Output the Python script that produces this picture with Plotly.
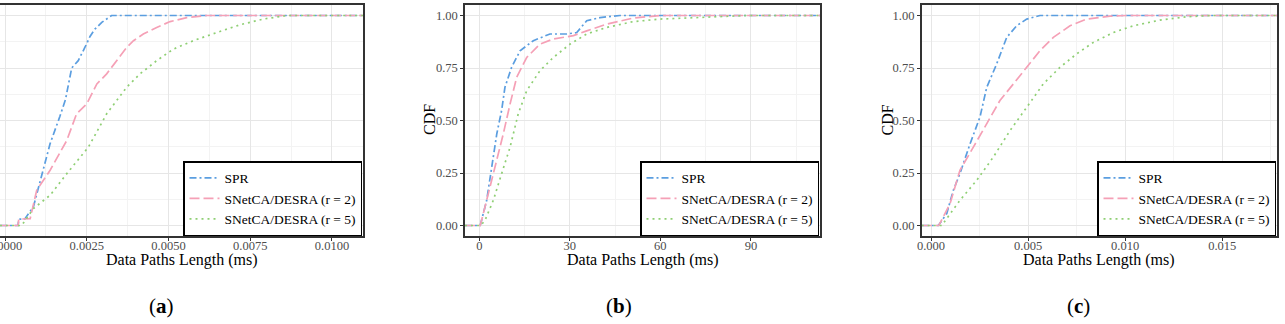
import plotly.graph_objects as go

# ---------------- data ----------------
series_names = ["SPR", "SNetCA/DESRA (r = 2)", "SNetCA/DESRA (r = 5)"]
panel_labels = ["a", "b", "c"]
x_title = "Data Paths Length (ms)"
y_title = "CDF"

# panel (a)
a_spr_x = [-0.000153, 0.00040, 0.00042, 0.00060, 0.00087, 0.00107, 0.00138, 0.00168, 0.00185, 0.00204,
           0.00224, 0.00245, 0.00260, 0.00275, 0.00296, 0.00326, 0.01095]
a_spr_y = [0, 0, 0.03, 0.03, 0.09, 0.21, 0.39, 0.52, 0.60, 0.75, 0.785, 0.85, 0.90, 0.935, 0.967, 1.0, 1.0]
a_r2_x = [-0.000153, 0.00040, 0.00042, 0.00077, 0.00097, 0.00138, 0.00189, 0.00219, 0.00250, 0.00281,
          0.00311, 0.00342, 0.00372, 0.00393, 0.00423, 0.00464, 0.00505, 0.00556, 0.00617, 0.01095]
a_r2_y = [0, 0, 0.03, 0.033, 0.168, 0.263, 0.405, 0.532, 0.579, 0.674, 0.722, 0.785, 0.848, 0.88, 0.912,
          0.943, 0.971, 0.99, 1.0, 1.0]
a_r5_x = [-0.000153, 0.00051, 0.00087, 0.00138, 0.00189, 0.00255, 0.00311, 0.00372, 0.00413, 0.00464,
          0.00515, 0.00576, 0.00648, 0.00719, 0.00790, 0.00862, 0.01095]
a_r5_y = [0, 0, 0.081, 0.144, 0.247, 0.373, 0.532, 0.658, 0.722, 0.785, 0.84, 0.88, 0.919, 0.956, 0.983,
          1.0, 1.0]

# panel (b)
b_spr_x = [-4.74, 0.3, 2.45, 4.1, 5.8, 7.4, 8.5, 10.7, 13.5, 17.9, 23.4, 29.0, 32.3, 35.6, 40.0, 46.6, 112.9]
b_spr_y = [0, 0, 0.12, 0.278, 0.437, 0.548, 0.658, 0.753, 0.832, 0.88, 0.912, 0.912, 0.919, 0.975, 0.99,
           1.0, 1.0]
b_r2_x = [-4.74, 0.3, 1.33, 3.55, 5.77, 7.96, 10.2, 12.4, 15.7, 20.1, 24.5, 31.2, 35.6, 42.2, 51.1, 59.9, 112.9]
b_r2_y = [0, 0, 0.057, 0.183, 0.31, 0.437, 0.579, 0.706, 0.80, 0.864, 0.888, 0.904, 0.927, 0.959, 0.988,
          1.0, 1.0]
b_r5_x = [-4.74, 0.5, 1.9, 4.64, 7.4, 10.2, 12.9, 15.7, 20.1, 24.5, 30.1, 35.6, 42.2, 51.0, 59.9, 68.7,
          79.8, 88.6, 112.9]
b_r5_y = [0, 0, 0.025, 0.12, 0.247, 0.373, 0.532, 0.642, 0.737, 0.80, 0.864, 0.912, 0.943, 0.971, 0.983,
          0.988, 0.997, 1.0, 1.0]

# panel (c)
c_spr_x = [-0.00048, 0.00038, 0.00081, 0.00115, 0.00149, 0.00201, 0.00252, 0.00287, 0.00338, 0.00390,
           0.00441, 0.00493, 0.00561, 0.01782]
c_spr_y = [0, 0, 0.057, 0.168, 0.247, 0.389, 0.516, 0.658, 0.769, 0.896, 0.951, 0.983, 1.0, 1.0]
c_r2_x = [-0.00048, 0.00040, 0.00098, 0.00149, 0.00218, 0.00287, 0.00355, 0.00424, 0.00493, 0.00561,
          0.00630, 0.00716, 0.00802, 0.00922, 0.01008, 0.01782]
c_r2_y = [0, 0, 0.104, 0.263, 0.373, 0.484, 0.595, 0.674, 0.753, 0.832, 0.896, 0.951, 0.983, 0.997, 1.0, 1.0]
c_r5_x = [-0.00048, 0.00055, 0.00149, 0.00235, 0.00321, 0.00407, 0.00493, 0.00578, 0.00664, 0.00750,
          0.00836, 0.00939, 0.01042, 0.01179, 0.01317, 0.01437, 0.01782]
c_r5_y = [0, 0, 0.12, 0.215, 0.326, 0.452, 0.563, 0.674, 0.753, 0.817, 0.872, 0.919, 0.951, 0.978, 0.994,
          1.0, 1.0]

x_ranges = [[-0.000153, 0.01095], [-4.74, 112.9], [-0.00048, 0.01782]]
x_dticks = [0.0025, 30, 0.005]
x_formats = [".4f", "d", ".3f"]
y_range = [-0.05, 1.05]

panels = [
    [(a_spr_x, a_spr_y), (a_r2_x, a_r2_y), (a_r5_x, a_r5_y)],
    [(b_spr_x, b_spr_y), (b_r2_x, b_r2_y), (b_r5_x, b_r5_y)],
    [(c_spr_x, c_spr_y), (c_r2_x, c_r2_y), (c_r5_x, c_r5_y)],
]

# ---------------- style ----------------
W, H = 1285, 324
colors = ["#5b9ee0", "#f5a0b6", "#8fcf74"]
dashes = ["7px,3px,2px,3px", "10px,4px", "2px,4px"]
FONT = "Liberation Serif"
x_domains_px = [(0, 363), (465, 820), (921.7, 1277)]
y_title_px = [None, 429, 886.5]
y_dom = [1 - 236 / H, 1 - 5 / H]

fig = go.Figure()
legend_keys = ["legend", "legend2", "legend3"]

for p, series in enumerate(panels):
    sfx = "" if p == 0 else str(p + 1)
    for s, (xs, ys) in enumerate(series):
        fig.add_trace(go.Scatter(
            x=xs, y=ys, mode="lines", name=series_names[s],
            line=dict(color=colors[s], width=1.7, dash=dashes[s]),
            xaxis="x" + sfx, yaxis="y" + sfx,
            legend=legend_keys[p], showlegend=True,
        ))

layout = dict(
    width=W, height=H, margin=dict(l=0, r=0, t=0, b=0),
    paper_bgcolor="white", plot_bgcolor="white", template="none",
    font=dict(family=FONT, color="black"),
)

for p in range(3):
    sfx = "" if p == 0 else str(p + 1)
    x0, x1 = x_domains_px[p]
    layout["xaxis" + sfx] = dict(
        domain=[x0 / W, x1 / W], range=x_ranges[p], anchor="y" + sfx,
        tickmode="linear", tick0=0, dtick=x_dticks[p], tickformat=x_formats[p],
        showgrid=True, gridcolor="#e6e6e6", gridwidth=1, zeroline=False,
        minor=dict(dtick=x_dticks[p] / 2, tick0=0, showgrid=True, gridcolor="#f3f3f3", gridwidth=0.7, ticklen=0),
        showline=True, mirror=True, linecolor="#333333", linewidth=1.5,
        ticks="outside", ticklen=3, tickcolor="#333333", tickwidth=1,
        tickfont=dict(family=FONT, size=12.5, color="#4d4d4d"),
        ticklabelstandoff=-6, ticklabeloverflow="allow",
        automargin=False,
    )
    layout["yaxis" + sfx] = dict(
        domain=y_dom, range=y_range, anchor="x" + sfx,
        tickmode="linear", tick0=0, dtick=0.25, tickformat=".2f",
        showgrid=True, gridcolor="#e6e6e6", gridwidth=1, zeroline=False,
        minor=dict(dtick=0.125, tick0=0, showgrid=True, gridcolor="#f3f3f3", gridwidth=0.7, ticklen=0),
        showline=True, mirror=True, linecolor="#333333", linewidth=1.5,
        ticks="outside", ticklen=3, tickcolor="#333333", tickwidth=1,
        tickfont=dict(family=FONT, size=12.5, color="#4d4d4d"),
        ticklabeloverflow="allow",
        automargin=False,
    )
    layout[legend_keys[p]] = dict(
        x=(x1 - 1) / W, y=1 - 236 / H, xanchor="right", yanchor="bottom",
        bgcolor="white", bordercolor="black", borderwidth=1.5,
        font=dict(family=FONT, size=13.5, color="black"),
        itemwidth=30, tracegroupgap=0, traceorder="normal",
    )

fig.update_layout(**layout)

caption_x = [161.7, 619, 1078]
for p in range(3):
    x0, x1 = x_domains_px[p]
    fig.add_annotation(
        text=x_title, xref="paper", yref="paper",
        x=((x0 + x1) / 2) / W, y=1 - 260 / H, xanchor="center", yanchor="middle",
        showarrow=False, font=dict(family=FONT, size=16, color="black"),
    )
    if y_title_px[p] is not None:
        fig.add_annotation(
            text=y_title, xref="paper", yref="paper", textangle=-90,
            x=y_title_px[p] / W, y=1 - 120 / H, xanchor="center", yanchor="middle",
            showarrow=False, font=dict(family=FONT, size=16, color="black"),
        )
    fig.add_annotation(
        text="(<b>" + panel_labels[p] + "</b>)", xref="paper", yref="paper",
        x=caption_x[p] / W, y=1 - 306 / H, xanchor="center", yanchor="middle",
        showarrow=False, font=dict(family=FONT, size=21, color="black"),
    )

fig.write_html("out.html")
